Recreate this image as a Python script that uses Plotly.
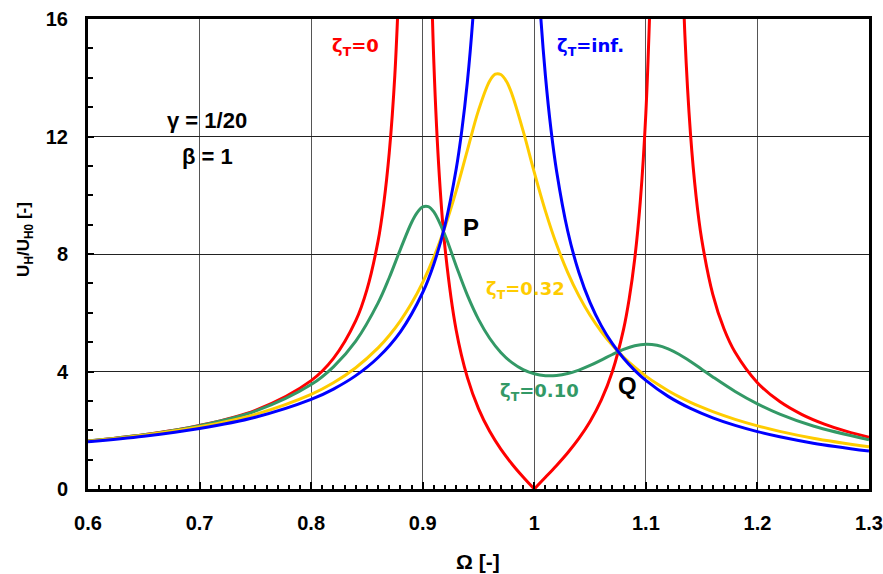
import plotly.graph_objects as go

# ---------------- data ----------------
x_ticks = [0.6, 0.7, 0.8, 0.9, 1.0, 1.1, 1.2, 1.3]
x_ticklabels = ["0.6", "0.7", "0.8", "0.9", "1", "1.1", "1.2", "1.3"]
y_ticks = [0, 4, 8, 12, 16]
y_ticklabels = ["0", "4", "8", "12", "16"]

# zeta_T = 0 : branches split (None) at the two resonances and at the cusp at 1
red_omega = [0.60, 0.65, 0.70, 0.75, 0.80, 0.82, 0.84, 0.85, 0.86, 0.865, 0.87, 0.875, 0.88, None,
             0.905, 0.91, 0.915, 0.92, 0.93, 0.94, 0.95, 0.96, 0.97, 0.98, 0.99, 1.00, None,
             1.00, 1.01, 1.02, 1.03, 1.04, 1.05, 1.06, 1.07, 1.08, 1.085, 1.09, 1.095, 1.10, 1.105, None,
             1.13, 1.135, 1.14, 1.145, 1.15, 1.16, 1.17, 1.18, 1.20, 1.22, 1.24, 1.26, 1.28, 1.30]
red_u = [1.634, 1.849, 2.165, 2.679, 3.689, 4.445, 5.729, 6.787, 8.446, 9.691, 11.44, 14.08, 18.53, None,
         22.07, 14.50, 10.59, 8.202, 5.405, 3.800, 2.737, 1.963, 1.357, 0.853, 0.409, 0.0, None,
         0.0, 0.397, 0.802, 1.234, 1.721, 2.297, 3.022, 3.997, 5.432, 6.456, 7.830, 9.785, 12.80, 18.12, None,
         21.58, 15.44, 12.09, 9.973, 8.513, 6.626, 5.454, 4.652, 3.618, 2.976, 2.534, 2.210, 1.960, 1.762]

# zeta_T = 0.10
green_omega = [0.60, 0.65, 0.70, 0.75, 0.80, 0.82, 0.84, 0.86, 0.87, 0.88, 0.89, 0.895, 0.90, 0.905,
               0.91, 0.92, 0.93, 0.94, 0.95, 0.96, 0.97, 0.98, 0.99, 1.00, 1.01, 1.02, 1.03, 1.04,
               1.05, 1.06, 1.07, 1.08, 1.09, 1.10, 1.11, 1.12, 1.13, 1.14, 1.15, 1.16, 1.18, 1.20,
               1.22, 1.25, 1.30]
green_u = [1.633, 1.846, 2.157, 2.651, 3.555, 4.160, 5.033, 6.335, 7.192, 8.159, 9.073, 9.408, 9.602, 9.613,
           9.431, 8.638, 7.593, 6.599, 5.775, 5.132, 4.650, 4.302, 4.065, 3.922, 3.859, 3.866, 3.932, 4.049,
           4.206, 4.389, 4.579, 4.751, 4.875, 4.927, 4.891, 4.770, 4.578, 4.340, 4.080, 3.816, 3.321, 2.899,
           2.551, 2.144, 1.675]

# zeta_T = 0.32
yellow_omega = [0.60, 0.65, 0.70, 0.75, 0.80, 0.82, 0.84, 0.86, 0.87, 0.88, 0.89, 0.90, 0.91, 0.92,
                0.93, 0.94, 0.95, 0.96, 0.965, 0.97, 0.975, 0.98, 0.99, 1.00, 1.01, 1.02, 1.03, 1.04,
                1.05, 1.06, 1.07, 1.08, 1.09, 1.10, 1.11, 1.12, 1.13, 1.14, 1.15, 1.16, 1.18, 1.20,
                1.22, 1.25, 1.30]
yellow_u = [1.627, 1.831, 2.117, 2.542, 3.222, 3.618, 4.128, 4.803, 5.226, 5.726, 6.321, 7.035, 7.894, 8.929,
            10.15, 11.53, 12.89, 13.89, 14.12, 14.11, 13.88, 13.44, 12.19, 10.78, 9.461, 8.321, 7.367, 6.574,
            5.914, 5.361, 4.891, 4.491, 4.145, 3.844, 3.579, 3.346, 3.138, 2.952, 2.785, 2.634, 2.371, 2.150,
            1.963, 1.730, 1.434]

# zeta_T = inf.
blue_omega = [0.60, 0.65, 0.70, 0.75, 0.80, 0.82, 0.84, 0.86, 0.88, 0.90, 0.91, 0.92, 0.93, 0.935, 0.94,
              0.945, 0.95, None,
              1.00, 1.005, 1.01, 1.015, 1.02, 1.03, 1.04, 1.05, 1.06, 1.07, 1.08, 1.09, 1.10, 1.12, 1.14,
              1.16, 1.18, 1.20, 1.22, 1.25, 1.30]
blue_u = [1.608, 1.797, 2.060, 2.443, 3.049, 3.402, 3.859, 4.476, 5.351, 6.689, 7.663, 8.986, 10.89, 12.19, 13.85,
          16.05, 19.09, None,
          20.0, 16.52, 14.06, 12.23, 10.82, 8.776, 7.370, 6.344, 5.562, 4.947, 4.450, 4.040, 3.697, 3.153, 2.743,
          2.422, 2.164, 1.953, 1.777, 1.561, 1.291]

RED = "#FF0000"
GREEN = "#339966"
YELLOW = "#FFCC00"
BLUE = "#0000FF"

fig = go.Figure()
for xs, ys, col in [(red_omega, red_u, RED), (green_omega, green_u, GREEN),
                    (yellow_omega, yellow_u, YELLOW), (blue_omega, blue_u, BLUE)]:
    fig.add_trace(go.Scatter(x=xs, y=ys, mode="lines", connectgaps=False,
                             line=dict(color=col, width=3, shape="spline", smoothing=1),
                             hoverinfo="skip", showlegend=False))

tick_font = dict(family="Liberation Sans, Arial", size=20, color="black", weight="bold")

fig.update_xaxes(range=[0.6, 1.3], tickmode="array", tickvals=x_ticks, ticktext=x_ticklabels,
                 ticks="inside", ticklen=7, tickwidth=2, tickcolor="black",
                 showline=True, linewidth=3, linecolor="black", mirror=True,
                 showgrid=True, gridcolor="#555555", gridwidth=1, zeroline=False,
                 tickfont=tick_font, ticklabelstandoff=14,
                 minor=dict(tick0=0.6, dtick=0.01, ticks="inside", ticklen=4, tickwidth=2,
                            tickcolor="black", showgrid=False))
fig.update_yaxes(range=[0, 16], tickmode="array", tickvals=y_ticks, ticktext=y_ticklabels,
                 ticks="inside", ticklen=6, tickwidth=2, tickcolor="black",
                 showline=True, linewidth=3, linecolor="black", mirror=True,
                 showgrid=True, gridcolor="#222222", gridwidth=1, zeroline=False,
                 tickfont=tick_font, ticklabelstandoff=13,
                 minor=dict(tick0=0, dtick=1, ticks="inside", ticklen=5, tickwidth=2,
                            tickcolor="black", showgrid=False))

zfont = "DejaVu Sans"
afont = "Liberation Sans, Arial"
annots = [
    dict(x=0.8402, y=15.03, text="<b>ζ<sub>T</sub>=0</b>", color=RED, size=18, fam=zfont),
    dict(x=1.0508, y=15.03, text="<b>ζ<sub>T</sub>=inf.</b>", color=BLUE, size=18, fam=zfont),
    dict(x=0.9917, y=6.78, text="<b>ζ<sub>T</sub>=0.32</b>", color=YELLOW, size=18, fam=zfont),
    dict(x=1.0051, y=3.31, text="<b>ζ<sub>T</sub>=0.10</b>", color=GREEN, size=18, fam=zfont),
    dict(x=0.7067, y=12.54, text="<b>γ = 1/20</b>", color="black", size=22, fam=afont),
    dict(x=0.7067, y=11.32, text="<b>β = 1</b>", color="black", size=22, fam=afont),
    dict(x=0.9433, y=8.90, text="<b>P</b>", color="black", size=24, fam=afont),
    dict(x=1.0831, y=3.51, text="<b>Q</b>", color="black", size=24, fam=afont),
]
for a in annots:
    fig.add_annotation(x=a["x"], y=a["y"], xref="x", yref="y", text=a["text"], showarrow=False,
                       xanchor="center", yanchor="middle",
                       font=dict(family=a["fam"], size=a["size"], color=a["color"]))

# axis titles
fig.add_annotation(x=0.4994, y=0, xref="paper", yref="paper", yshift=-72, showarrow=False,
                   text="<b>Ω [-]</b>", xanchor="center", yanchor="middle",
                   font=dict(family=afont, size=21, color="black"))
fig.add_annotation(x=0, y=0.530, xref="paper", yref="paper", xshift=-63, showarrow=False,
                   text="<b>U<sub>H</sub>/U<sub>H0</sub> [-]</b>", textangle=-90,
                   xanchor="center", yanchor="middle",
                   font=dict(family=afont, size=17, color="black"))

fig.update_layout(width=883, height=574, margin=dict(l=88, r=14, t=19, b=85, autoexpand=False),
                  plot_bgcolor="white", paper_bgcolor="white", showlegend=False)

fig.write_html("out.html", config={"displayModeBar": False},
               post_script="document.body.style.margin='0';document.body.style.padding='0';")
